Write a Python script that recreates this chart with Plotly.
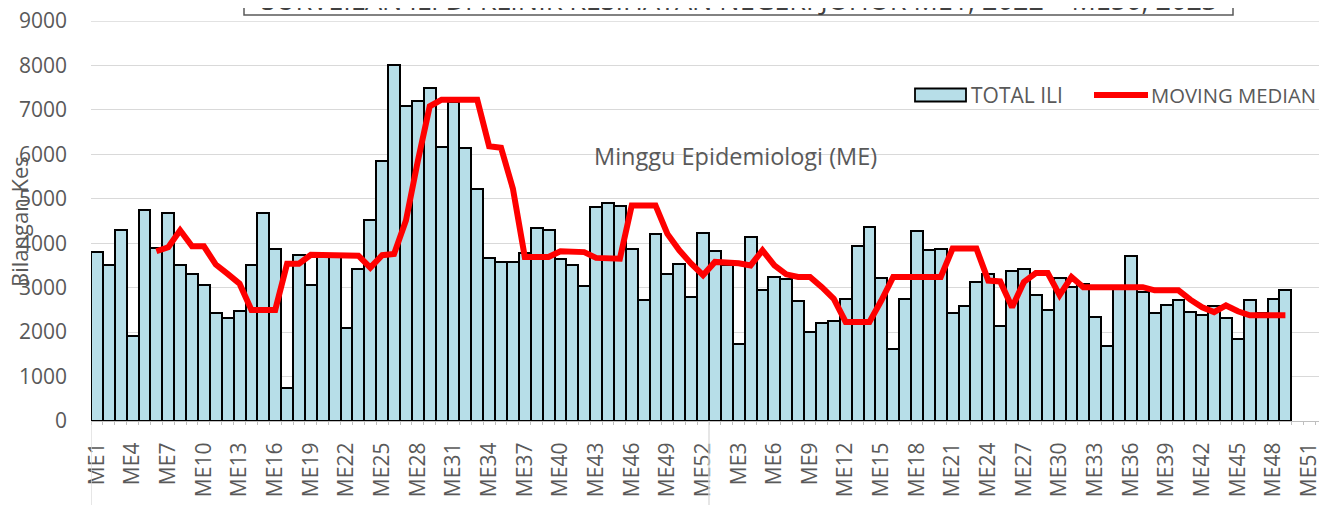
import plotly.graph_objects as go

# ---- categories (epidemiological weeks) ----
weeks_2022 = [f"ME{w}" for w in range(1, 53)]
weeks_2023 = [f"ME{w}" for w in range(1, 53)]
categories = weeks_2022 + weeks_2023

# ---- TOTAL ILI (2022 ME1-ME52, 2023 ME1-ME49) ----
ili_2022 = [3800, 3520, 4290, 1910, 4740, 3900, 4680, 3520, 3300, 3070,
            2420, 2320, 2480, 3520, 4670, 3870, 740, 3740, 3050, 3720,
            3690, 2090, 3430, 4530, 5840, 8010, 7080, 7210, 7500, 6160,
            7180, 6140, 5210, 3660, 3570, 3570, 3790, 4350, 4300, 3640,
            3520, 3030, 4810, 4910, 4830, 3880, 2730, 4210, 3300, 3530,
            2800, 4230]
ili_2023 = [3820, 3500, 1740, 4150, 2950, 3250, 3200, 2710, 2000, 2210,
            2240, 2740, 3930, 4360, 3220, 1630, 2750, 4280, 3850, 3880,
            2430, 2580, 3130, 3300, 2130, 3370, 3430, 2830, 2500, 3220,
            3010, 3090, 2340, 1680, 3000, 3710, 2900, 2440, 2600, 2730,
            2450, 2390, 2580, 2320, 1840, 2730, 2420, 2750, 2950]

# ---- MOVING MEDIAN (2022 from ME6, 2023 ME1-ME49) ----
median_2022 = [None, None, None, None, None,
               3820, 3910, 4290, 3930, 3930, 3520, 3310, 3090, 2500, 2500,
               2500, 3540, 3540, 3740, 3740, 3720, 3720, 3720, 3450, 3730,
               3760, 4510, 5850, 7080, 7230, 7230, 7230, 7230, 6180, 6150,
               5230, 3690, 3690, 3690, 3820, 3820, 3800, 3670, 3650, 3650,
               4850, 4850, 4850, 4210, 3840, 3540, 3280]
median_2023 = [3580, 3580, 3550, 3500, 3840, 3500, 3300, 3240, 3240, 3010,
               2750, 2230, 2230, 2230, 2710, 3240, 3240, 3240, 3240, 3240,
               3880, 3880, 3880, 3160, 3140, 2560, 3130, 3330, 3330, 2830,
               3240, 3010, 3010, 3010, 3010, 3010, 3010, 2940, 2940, 2940,
               2730, 2560, 2450, 2600, 2470, 2380, 2380, 2380, 2380]

ili = ili_2022 + ili_2023
median = median_2022 + median_2023
x_pos = list(range(len(categories)))

tick_idx = x_pos[::3]
tick_text = [categories[i] for i in tick_idx]

FONT = "Open Sans"
GREY = "#595959"

fig = go.Figure()
fig.add_trace(go.Bar(
    x=x_pos[:len(ili)], y=ili, name="TOTAL ILI",
    marker=dict(color="#B7DEE8", line=dict(color="black", width=2)),
    showlegend=False,
))
fig.add_trace(go.Scatter(
    x=x_pos[:len(median)], y=median, name="MOVING MEDIAN", mode="lines",
    line=dict(color="#FF0000", width=6), showlegend=False,
))

# the page adds an 8px body margin, so the figure is laid out 8px smaller
fig.update_layout(
    width=1319, height=497,
    margin=dict(l=83, r=0, t=13, b=84, autoexpand=False),
    paper_bgcolor="white", plot_bgcolor="white",
    bargap=0,
    font=dict(family=FONT, color=GREY),
    xaxis=dict(
        range=[-0.5, len(categories) - 0.5],
        tickmode="array", tickvals=tick_idx, ticktext=tick_text,
        tickangle=-90, tickfont=dict(size=21, color=GREY, family=FONT),
        showgrid=False, zeroline=False, automargin=False,
        showline=True, linecolor="#BFBFBF", linewidth=1.3,
        ticks="", ticklabelstandoff=12, ticklabeloverflow="allow",
        minor=dict(tickmode="linear", tick0=-0.5, dtick=1, ticks="outside",
                   ticklen=3, tickcolor="#BFBFBF", showgrid=False),
    ),
    yaxis=dict(
        range=[0, 9000], dtick=1000, automargin=False,
        tickfont=dict(size=21, color=GREY, family=FONT),
        showgrid=True, gridcolor="#D9D9D9", gridwidth=1.3,
        zeroline=False, showline=False, ticks="",
        ticklabelstandoff=23, ticklabeloverflow="allow",
    ),
)

PW, PH = 1236, 400  # plot area size in px
def px_x(x):  # page x pixel -> paper
    return (x - 91) / PW
def px_y(y):  # page y pixel -> paper
    return (421 - y) / PH

# 9000 grid line at the very top of the plot area
fig.add_shape(type="line", xref="paper", yref="y", x0=0, x1=1, y0=9000, y1=9000,
              line=dict(color="#D9D9D9", width=1.3), layer="below")

# year divider lines on category axis
for xv in [-0.5, 51.5]:
    fig.add_shape(type="line", xref="x", yref="paper", x0=xv, x1=xv,
                  y0=0, y1=-0.3, line=dict(color="#D9D9D9", width=1.3))

# title box (cut off at top)
fig.add_shape(type="rect", xref="paper", yref="paper",
              x0=px_x(244), x1=px_x(1233), y0=px_y(15), y1=px_y(-30),
              line=dict(color="#595959", width=1.5), fillcolor="white")
fig.add_annotation(
    text="SURVEILAN ILI DI KLINIK KESIHATAN NEGERI JOHOR ME1, 2022 \u2013 ME50, 2023",
    xref="paper", yref="paper", x=px_x(738.5), y=px_y(20),
    xanchor="center", yanchor="bottom", showarrow=False,
    font=dict(size=27, color="#404040", family=FONT),
)

# axis titles
fig.add_annotation(text="Bilangan Kes", textangle=-90, xref="paper", yref="paper",
                   x=px_x(19), y=px_y(222), xanchor="center", yanchor="middle",
                   showarrow=False, font=dict(size=22, color=GREY, family=FONT))
fig.add_annotation(text="Minggu Epidemiologi (ME)", xref="paper", yref="paper",
                   x=px_x(735), y=px_y(156),
                   xanchor="center", yanchor="middle", showarrow=False,
                   font=dict(size=23.5, color=GREY, family=FONT))

# custom legend
LEG_Y = px_y(95)
fig.add_shape(type="rect", xref="paper", yref="paper",
              x0=px_x(915), x1=px_x(966), y0=px_y(101.5), y1=px_y(88.5),
              line=dict(color="black", width=1.8), fillcolor="#B7DEE8")
fig.add_annotation(text="TOTAL ILI", xref="paper", yref="paper",
                   x=px_x(969), y=LEG_Y, xanchor="left", yanchor="middle",
                   showarrow=False, font=dict(size=21, color=GREY, family=FONT))
fig.add_shape(type="line", xref="paper", yref="paper",
              x0=px_x(1094), x1=px_x(1148), y0=LEG_Y, y1=LEG_Y,
              line=dict(color="#FF0000", width=6))
fig.add_annotation(text="MOVING MEDIAN", xref="paper", yref="paper",
                   x=px_x(1149), y=LEG_Y, xanchor="left", yanchor="middle",
                   showarrow=False, font=dict(size=20.3, color=GREY, family=FONT))

fig.write_html("out.html")
